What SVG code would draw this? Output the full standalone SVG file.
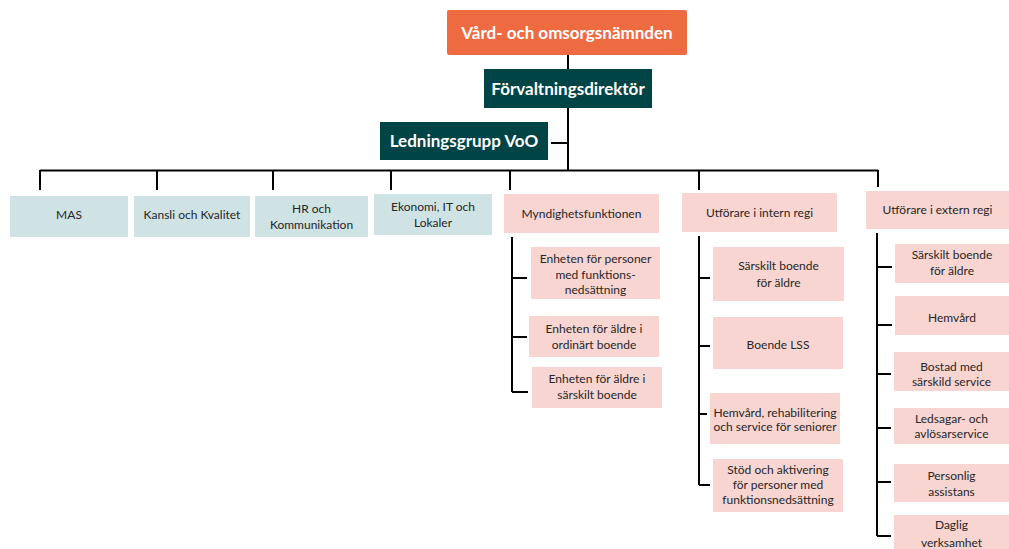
<svg xmlns="http://www.w3.org/2000/svg" width="1009" height="549" viewBox="0 0 1009 549">
<style>
.t{font-family:Lato,"Open Sans","Liberation Sans",sans-serif;text-anchor:middle}
.h{font-size:17px;font-weight:bold;fill:#ffffff}
.s{font-size:12px;fill:#262626}
.teal{fill:#004446}
.lt{fill:#CFE3E4}
.pk{fill:#F9D5D2}
.ln{stroke:#000;stroke-width:2;fill:none}
</style>
<rect width="1009" height="549" fill="#fff"/>
<g id="connectors" class="ln">
<path d="M568,55V170"/>
<path d="M551,143H568"/>
<path d="M40,170.5H878"/>
<path d="M40,170V190M157,170V190M273,170V190M391,170V190M510,170V190M699,170V190M878,170V187"/>
<path d="M512,237V392M512,278H527M512,337H527M512,392H528"/>
<path d="M699,236V485M699,278H710M699,346H710M699,414H707M699,485H710"/>
<path d="M877,233V536M877,267H892M877,325H892M877,374H891M877,428H891M877,482H891M877,536H891"/>
</g>
<g id="n-vard"><rect x="447" y="10" width="240" height="45" rx="2" fill="#EE6B42"/><text class="t h" x="567" y="38.5">Vård- och omsorgsnämnden</text></g>
<g id="n-forv"><rect class="teal" x="484" y="69" width="168" height="39"/><text class="t h" x="568" y="94.5">Förvaltningsdirektör</text></g>
<g id="n-ledn"><rect class="teal" x="380" y="122" width="168" height="38"/><text class="t h" x="464" y="147">Ledningsgrupp VoO</text></g>
<g id="n-mas"><rect class="lt" x="10" y="196" width="118" height="41"/><text class="t s" x="69" y="218.5">MAS</text></g>
<g id="n-kansli"><rect class="lt" x="134" y="196" width="116" height="41"/><text class="t s" x="192" y="219">Kansli och Kvalitet</text></g>
<g id="n-hr"><rect class="lt" x="255" y="196" width="113" height="41"/><text class="t s" x="311.5" y="213">HR och</text><text class="t s" x="311.5" y="229">Kommunikation</text></g>
<g id="n-ekon"><rect class="lt" x="374" y="194" width="118" height="41"/><text class="t s" x="433" y="211">Ekonomi,  IT och</text><text class="t s" x="433" y="226.5">Lokaler</text></g>
<g id="n-mynd"><rect class="pk" x="504" y="194" width="155" height="39"/><text class="t s" x="581.5" y="217.5">Myndighetsfunktionen</text></g>
<g id="n-intern"><rect class="pk" x="682" y="193" width="155" height="39"/><text class="t s" x="759.5" y="216.5">Utförare  i intern regi</text></g>
<g id="n-extern"><rect class="pk" x="866" y="191" width="143" height="38"/><text class="t s" x="937.5" y="214">Utförare  i extern regi</text></g>
<g id="m1"><rect class="pk" x="531" y="247" width="129" height="52"/><text class="t s" x="595.5" y="262.5">Enheten för personer</text><text class="t s" x="595.5" y="279">med funktions-</text><text class="t s" x="595.5" y="294">nedsättning</text></g>
<g id="m2"><rect class="pk" x="529" y="316" width="130" height="41"/><text class="t s" x="594" y="333">Enheten för äldre i</text><text class="t s" x="594" y="349">ordinärt  boende</text></g>
<g id="m3"><rect class="pk" x="532" y="367" width="130" height="41"/><text class="t s" x="597" y="382.5">Enheten för äldre i</text><text class="t s" x="597" y="399">särskilt boende</text></g>
<g id="i1"><rect class="pk" x="713" y="247" width="131" height="54"/><text class="t s" x="778.5" y="270">Särskilt boende</text><text class="t s" x="778.5" y="287">för äldre</text></g>
<g id="i2"><rect class="pk" x="713" y="317" width="130" height="52"/><text class="t s" x="778" y="349">Boende LSS</text></g>
<g id="i3"><rect class="pk" x="710" y="393" width="130" height="51"/><text class="t s" x="775" y="416.5">Hemvård, rehabilitering</text><text class="t s" x="775" y="431">och service för seniorer</text></g>
<g id="i4"><rect class="pk" x="713" y="459" width="130" height="53"/><text class="t s" x="778" y="474">Stöd och aktivering</text><text class="t s" x="778" y="489">för personer med</text><text class="t s" x="778" y="504">funktionsnedsättning</text></g>
<g id="e1"><rect class="pk" x="895" y="244" width="114" height="39"/><text class="t s" x="952" y="258.5">Särskilt boende</text><text class="t s" x="952" y="275">för äldre</text></g>
<g id="e2"><rect class="pk" x="895" y="296" width="114" height="39"/><text class="t s" x="952" y="321.5">Hemvård</text></g>
<g id="e3"><rect class="pk" x="894" y="352" width="115" height="39"/><text class="t s" x="951.5" y="371">Bostad med</text><text class="t s" x="951.5" y="386">särskild service</text></g>
<g id="e4"><rect class="pk" x="894" y="408" width="115" height="36"/><text class="t s" x="951.5" y="422.5">Ledsagar- och</text><text class="t s" x="951.5" y="437.5">avlösarservice</text></g>
<g id="e5"><rect class="pk" x="894" y="464" width="115" height="38"/><text class="t s" x="951.5" y="480">Personlig</text><text class="t s" x="951.5" y="496">assistans</text></g>
<g id="e6"><rect class="pk" x="894" y="515" width="115" height="34"/><text class="t s" x="951.5" y="529">Daglig</text><text class="t s" x="951.5" y="546.5">verksamhet</text></g>
</svg>
